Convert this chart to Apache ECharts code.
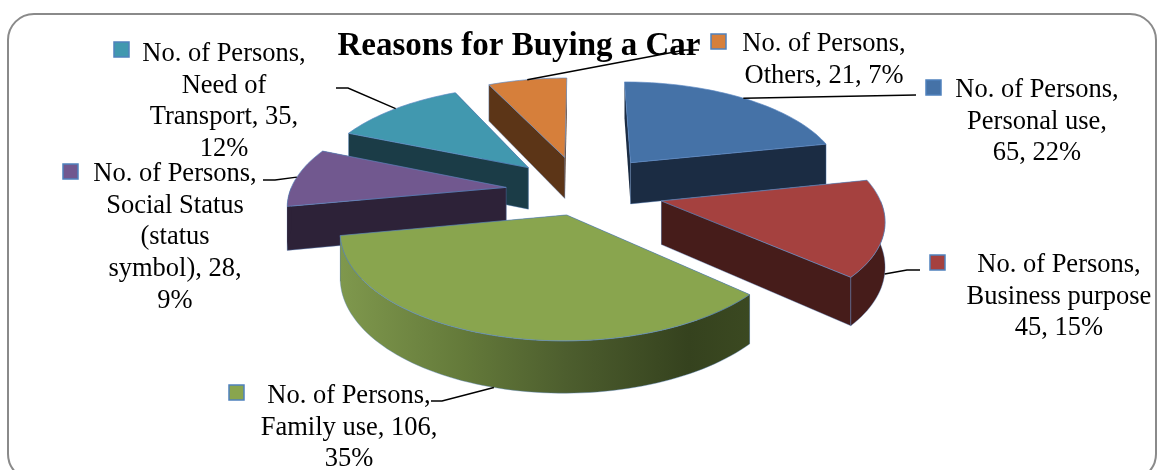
<!DOCTYPE html>
<html>
<head>
<meta charset="utf-8">
<style>html,body{margin:0;padding:0;background:#fff}#chart{width:1162px;height:470px}</style>
<script src="https://cdn.jsdelivr.net/npm/echarts@6/dist/echarts.min.js"></script>
</head>
<body>
<div id="chart"></div>
<script>
// Survey results: how many people bought a car for each reason.
const categories = ['Personal use', 'Business purpose', 'Family use', 'Social Status (status symbol)', 'Need of Transport', 'Others'];
const values = [65, 45, 106, 28, 35, 21];
const labelTexts = [
  'No. of Persons,\nPersonal use,\n65, 22%',
  'No. of Persons,\nBusiness purpose\n45, 15%',
  'No. of Persons,\nFamily use, 106,\n35%',
  'No. of Persons,\nSocial Status\n(status\nsymbol), 28,\n9%',
  'No. of Persons,\nNeed of\nTransport, 35,\n12%',
  'No. of Persons,\nOthers, 21, 7%'
];

// Slice appearance, in category order.
const topColors = ['#4572a7', '#a5413f', '#89a54e', '#71588f', '#4198af', '#d67f3b'];
const wallColors = ['#1b2c43', '#461c1a', '#3f4e24', '#2d2238', '#1b3c47', '#5c3517'];
const explode = [0.38, 0.38, 0.24, 0.35, 0.35, 0.36];

// Label placement: text centre x, first-line top y, key x/y, leader start, leader elbow.
const labelCentres = [[1037, 74], [1059, 249], [349, 380], [175, 158], [224, 38], [824, 28]];
const keyCorners = [[926, 80], [930, 255], [229, 385], [63, 164], [114, 42], [711, 34]];
const leaderStarts = [[916, 95], [920, 270], [431, 401], [263, 180], [336, 88], [699, 50]];
const leaderElbows = [null, [907, 270], [442, 401], [275, 180], [348, 88], [685, 50]];

// Perspective view of the pie plane.
const view = { cx: 581, cy: 191, a: 216, b: 100, persp: 0.145, depth: 43 };

function project(u, v, h) {
  const k = 1 / (1 + view.persp * v);
  return [view.cx + view.a * u * k, view.cy - view.b * v * k + view.depth * h * k];
}

const total = values.reduce((s, v) => s + v, 0);
const slices = [];
values.reduce((acc, v, i) => {
  const start = acc / total * Math.PI * 2;
  const end = (acc + v) / total * Math.PI * 2;
  const mid = (start + end) / 2;
  slices.push({ i, start, end, mid, ox: explode[i] * Math.sin(mid), oy: explode[i] * Math.cos(mid) });
  return acc + v;
}, 0);

function rim(s, t, h) {
  return project(s.ox + Math.sin(t), s.oy + Math.cos(t), h);
}
function arc(s, from, to, h) {
  const n = Math.max(1, Math.ceil((to - from) / 0.03));
  const pts = [];
  for (let j = 0; j <= n; j++) pts.push(rim(s, from + (to - from) * j / n, h));
  return pts;
}

function fillFor(s) {
  if (s.i !== 2) return wallColors[s.i];
  return {
    type: 'linear', x: 0, y: 0, x2: 1, y2: 0,
    colorStops: [
      { offset: 0, color: '#7f984d' },
      { offset: 0.3, color: '#647a3a' },
      { offset: 0.55, color: '#4d5e2e' },
      { offset: 0.85, color: '#35421e' },
      { offset: 1, color: '#3b4921' }
    ]
  };
}

function renderSlice(params, api) {
  const s = slices[api.value(0)];
  const apexTop = project(s.ox, s.oy, 0);
  const apexBase = project(s.ox, s.oy, 1);
  const edge = 'rgba(90,135,195,0.65)';
  const side = (t, facing) => ({
    type: 'polygon',
    shape: { points: [apexTop, rim(s, t, 0), rim(s, t, 1), apexBase] },
    style: { fill: wallColors[s.i], stroke: facing ? edge : null, lineWidth: 0.6 }
  });
  // A radial side faces the viewer when its outward normal points to the front.
  const startFaces = Math.sin(s.start) < 0;
  const endFaces = Math.sin(s.end) > 0;
  const children = startFaces
    ? [side(s.end, endFaces), side(s.start, true)]
    : [side(s.start, false), side(s.end, endFaces)];
  // Only the front half of the rim wall can be seen.
  const wallFrom = Math.max(s.start, Math.PI / 2);
  const wallTo = Math.min(s.end, Math.PI * 1.5);
  if (wallTo > wallFrom) {
    children.push({
      type: 'polygon',
      shape: { points: arc(s, wallFrom, wallTo, 0).concat(arc(s, wallFrom, wallTo, 1).reverse()) },
      style: { fill: fillFor(s), stroke: wallTo - wallFrom > 0.3 ? edge : null, lineWidth: 0.6 }
    });
  }
  children.push({
    type: 'polygon',
    shape: { points: [apexTop].concat(arc(s, s.start, s.end, 0)) },
    style: { fill: topColors[s.i], stroke: edge, lineWidth: 1 }
  });
  return { type: 'group', children };
}

function renderLabel(params, api) {
  const i = api.value(0);
  const s = slices[i];
  const end = rim(s, s.mid, Math.cos(s.mid) < 0 ? 1 : 0);
  const pts = [leaderStarts[i]];
  if (leaderElbows[i]) pts.push(leaderElbows[i]);
  pts.push(end);
  return {
    type: 'group',
    children: [
      { type: 'polyline', shape: { points: pts }, style: { stroke: '#000', lineWidth: 1.4, fill: null } },
      {
        type: 'rect',
        shape: { x: keyCorners[i][0], y: keyCorners[i][1], width: 15, height: 15 },
        style: { fill: topColors[i], stroke: '#4f81bd', lineWidth: 1.5 }
      },
      {
        type: 'text',
        x: labelCentres[i][0],
        y: labelCentres[i][1],
        style: {
          text: labelTexts[i],
          font: '26.5px "Liberation Serif"',
          lineHeight: 31.8,
          align: 'center',
          verticalAlign: 'top',
          fill: '#000'
        }
      }
    ]
  };
}

// Paint from the back of the pie to the front.
const paintOrder = slices.slice().sort((p, q) => q.oy - p.oy).map(s => [s.i, values[s.i]]);

const chart = echarts.init(document.getElementById('chart'), null, { renderer: 'canvas' });
chart.setOption({
  animation: false,
  backgroundColor: '#fff',
  title: {
    text: 'Reasons for Buying a Car',
    left: 514,
    top: 25,
    textAlign: 'center',
    textStyle: { fontFamily: 'Liberation Serif', fontWeight: 'bold', fontSize: 33, color: '#000' }
  },
  graphic: [{
    type: 'rect',
    silent: true,
    z: 0,
    shape: { x: 8, y: 14, width: 1148, height: 466, r: 26 },
    style: { fill: '#fff', stroke: '#8a8a8a', lineWidth: 2 }
  }],
  series: [
    { type: 'custom', name: 'No. of Persons', coordinateSystem: 'none', silent: true, z: 2, renderItem: renderSlice, data: paintOrder },
    { type: 'custom', name: 'Labels', coordinateSystem: 'none', silent: true, z: 3, renderItem: renderLabel, data: categories.map((c, i) => [i, values[i]]) }
  ]
});
</script>
</body>
</html>
